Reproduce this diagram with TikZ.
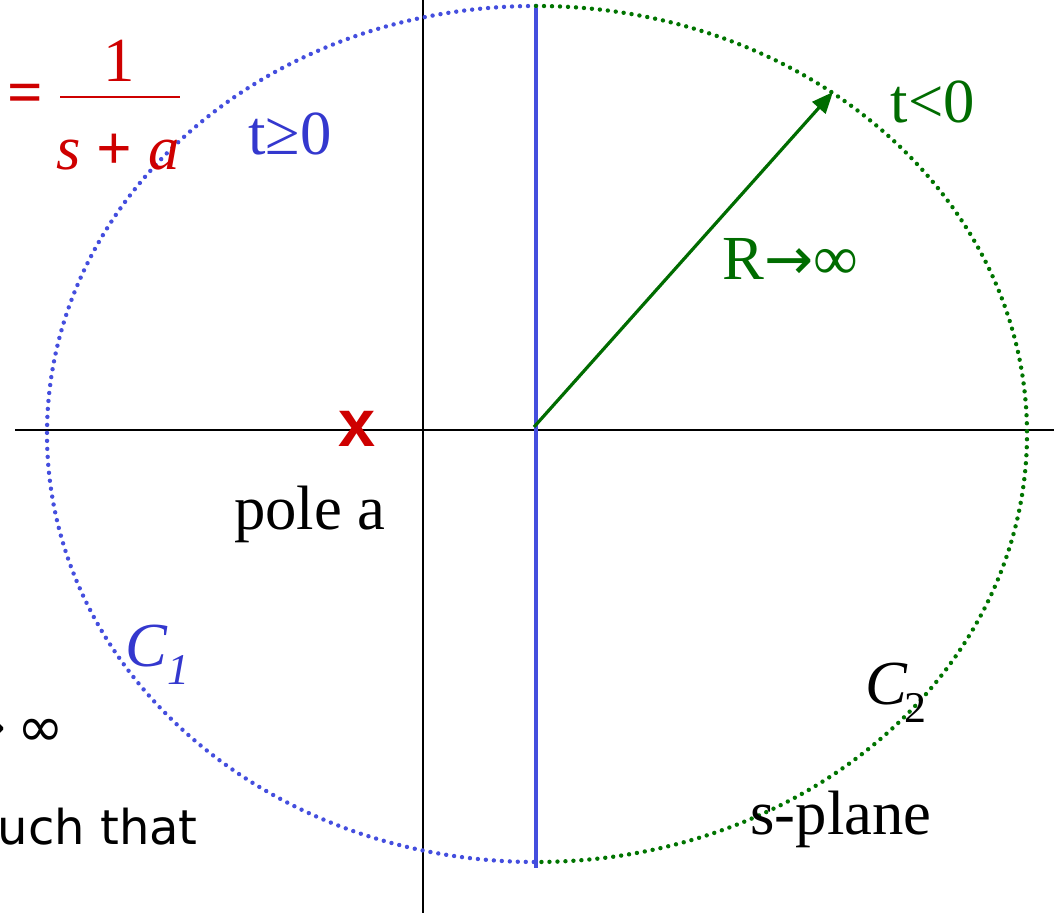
\documentclass[tikz,border=0pt]{standalone}
\usepackage{fontspec}
\setmainfont{Liberation Serif}
\newfontfamily\sansfam{DejaVu Sans}
\newfontfamily\markfam{Liberation Sans}
\usetikzlibrary{arrows.meta}

\definecolor{cblue}{RGB}{68,78,222}
\definecolor{tblue}{RGB}{52,56,206}
\definecolor{cgreen}{RGB}{0,116,0}
\definecolor{tgreen}{RGB}{0,108,0}
\definecolor{cred}{RGB}{206,0,0}

\begin{document}
\begin{tikzpicture}[
    x=0.75pt, y=0.75pt,
    >={Triangle[length=16pt, width=13pt]},
    axis/.style    = {line width=1.4pt},
    contour/.style = {line width=3.3pt, line cap=round, dash pattern=on 0pt off 6pt},
    lbl/.style     = {inner sep=0pt, font=\fontsize{47}{50}\selectfont},
    side/.style    = {inner sep=0pt, font=\sansfam\fontsize{36}{40}\selectfont}
]
\useasboundingbox (0,0) rectangle (1054,913);

% Axes of the s-plane
\coordinate (xl) at (15,483);
\coordinate (xr) at (1054,483);
\coordinate (yb) at (423,0);
\coordinate (yt) at (423,913);
\draw[axis] (xl) -- (xr);
\draw[axis] (yb) -- (yt);

% Contours C1 (left) and C2 (right), R -> infinity
\coordinate (top) at (536,907);
\draw[contour, cblue]  (top) arc[start angle=90, end angle=270, x radius=489, y radius=428];
\draw[contour, cgreen] (top) arc[start angle=90, end angle=-90, x radius=491, y radius=428];

% Integration line
\coordinate (jt) at (536,905);
\coordinate (jb) at (536,45);
\draw[line width=3pt, cblue] (jb) -- (jt);

% Radius
\coordinate (O)   at (534,486);
\coordinate (tip) at (833,821);
\draw[->, line width=2.4pt, tgreen] (O) -- (tip);

% Transfer function
\node[lbl, cred, anchor=center] (eq)  at (25,814) {\textbf{=}};
\node[lbl, cred, anchor=base]   (num) at (119,831) {1};
\node[lbl, cred, anchor=base]   (den) at (118,743) {\textit{s} \textbf{+} \textit{a}};
\coordinate (barl) at (60,816);
\coordinate (barr) at (180,816);
\draw[cred, line width=1.8pt] (barl) -- (barr);

% Labels
\node[lbl, tblue,  anchor=base] (tpos)  at (290,758) {t≥0};
\node[lbl, tgreen, anchor=base] (tneg)  at (933,790) {t<0};
\node[lbl, tgreen, anchor=base west] (rinf) at (722,633) {R{\sansfam\fontsize{44}{48}\selectfont →}∞};
\node[lbl, anchor=base]         (polea) at (310,383) {pole a};
\node[lbl, anchor=base]         (splane) at (841,78) {s-plane};
\node[lbl, tblue, anchor=base west] (c1) at (125,246) {\textit{C}\textsubscript{\textit{1}}};
\node[lbl, anchor=base west]        (c2) at (865,208) {\textit{C}\kern-2pt\textsubscript{2}};

% Pole marker
\node[inner sep=0pt, cred, anchor=base, font=\markfam\bfseries\fontsize{50}{54}\selectfont] (pole) at (357,466) {x};

% Cut-off text at the left
\node[side, anchor=east, font=\sansfam\fontsize{42}{46}\selectfont] (lim) at (64,181) {→\kern8pt∞};
\node[side, anchor=base east] (such) at (198,68) {uch that};

\end{tikzpicture}
\end{document}
